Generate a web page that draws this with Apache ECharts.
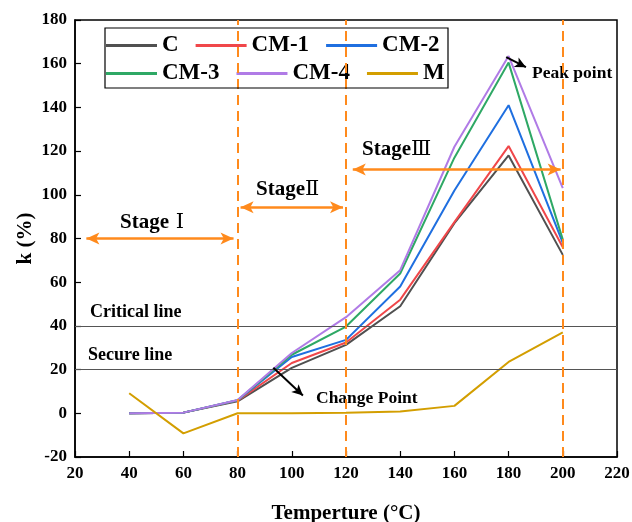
<!DOCTYPE html>
<html>
<head>
<meta charset="utf-8">
<script src="https://cdn.jsdelivr.net/npm/echarts@6/dist/echarts.min.js"></script>
<style>
  html, body { margin: 0; padding: 0; background: #fff; }
  #chart { width: 632px; height: 522px; }
</style>
</head>
<body>
<div id="chart"></div>
<script>
// Temperatures (°C) at which k was measured
const temperatures = [40, 60, 80, 100, 120, 140, 160, 180, 200];

// k (%) for each sample
const seriesC   = [0, 0.3, 5.5, 20.8, 31.3, 49, 87, 118, 72.5];
const seriesCM1 = [0, 0.3, 5.8, 23, 32.4, 52, 87.5, 122.3, 76];
const seriesCM2 = [0, 0.3, 6, 25.8, 33.6, 58, 102, 141, 78];
const seriesCM3 = [0, 0.3, 6, 26.8, 39.7, 64, 117, 160.5, 79.5];
const seriesCM4 = [0, 0.3, 6.1, 27.6, 44, 65.5, 122, 163.5, 103];
const seriesM   = [9.2, -9.2, 0, 0, 0.2, 0.8, 3.4, 23.5, 37];

// Reference levels and stage boundaries
const criticalLevel = 40;
const secureLevel = 20;
const stageBounds = [80, 120, 200];

// Stage spans: [from x, to x, at k]
const stageArrows = [
  [24.2, 78.5, 80],
  [81.1, 118.9, 94.3],
  [122.5, 199.2, 111.6]
];
// Pointer arrows: [x0, y0, x1, y1]
const changeArrow = [93.2, 20.8, 104.1, 8.1];
const peakArrow = [179.1, 163, 186.4, 158.4];

const xTicks = { min: 20, max: 220, interval: 20 };
const yTicks = { min: -20, max: 180, interval: 20 };

const FONT = '"Liberation Serif", "Times New Roman", serif';
const NUMERAL_FONT = '"DejaVu Serif", serif';
const ORANGE = '#FF8A1C';

const colors = {
  'C': '#505050',
  'CM-1': '#F0474A',
  'CM-2': '#1F6FE0',
  'CM-3': '#2EA865',
  'CM-4': '#B07BE6',
  'M': '#D39E00'
};

function pairs(vals) {
  return temperatures.map((t, i) => [t, vals[i]]);
}

function lineSeries(name, vals) {
  return {
    name: name,
    type: 'line',
    data: pairs(vals),
    symbol: 'none',
    color: colors[name],
    lineStyle: { width: 2, color: colors[name] },
    z: 3
  };
}

function stageLabel(x, y, numeral) {
  return {
    type: 'text', x: x, y: y,
    style: {
      text: '{s|Stage}{n|' + numeral + '}',
      textVerticalAlign: 'middle',
      rich: {
        s: { fontFamily: FONT, fontWeight: 'bold', fontSize: 21, fill: '#000', color: '#000' },
        n: { fontFamily: NUMERAL_FONT, fontWeight: 'normal', fontSize: 21, fill: '#000', color: '#000' }
      }
    }
  };
}

function note(x, y, text, size) {
  return {
    type: 'text', x: x, y: y,
    style: { text: text, fontFamily: FONT, fontWeight: 'bold', fontSize: size, fill: '#000', textVerticalAlign: 'middle' }
  };
}

const chart = echarts.init(document.getElementById('chart'), null, { renderer: 'canvas' });

const legendText = { fontFamily: FONT, fontWeight: 'bold', fontSize: 23, color: '#000' };

const legendCommon = {
  left: 106,
  icon: 'rect',
  itemWidth: 51, itemHeight: 3, itemGap: 17,
  textStyle: legendText,
  padding: 0
};

const option = {
  backgroundColor: '#fff',
  animation: false,
  grid: {
    left: 75, right: 15, top: 20, bottom: 65,
    outerBoundsMode: 'none',
    containLabel: false,
    show: true, borderColor: '#000', borderWidth: 1.5, backgroundColor: 'transparent'
  },
  legend: [
    Object.assign({ data: ['C', 'CM-1', 'CM-2'], top: 34 }, legendCommon),
    Object.assign({ data: ['CM-3', 'CM-4', 'M'], top: 62 }, legendCommon)
  ],
  xAxis: {
    type: 'value',
    min: xTicks.min, max: xTicks.max, interval: xTicks.interval,
    name: 'Temperture (°C)',
    nameLocation: 'middle',
    nameGap: 46,
    nameTextStyle: { fontFamily: FONT, fontWeight: 'bold', fontSize: 21, color: '#000' },
    axisLine: { onZero: false, lineStyle: { color: '#000', width: 1.5 } },
    axisTick: { inside: true, length: 6, lineStyle: { color: '#000', width: 1.2 } },
    axisLabel: { fontFamily: FONT, fontWeight: 'bold', fontSize: 17, color: '#000', margin: 8 },
    splitLine: { show: false }
  },
  yAxis: {
    type: 'value',
    min: yTicks.min, max: yTicks.max, interval: yTicks.interval,
    name: 'k (%)',
    nameLocation: 'middle',
    nameMoveOverlap: false,
    nameGap: 39,
    nameTextStyle: { fontFamily: FONT, fontWeight: 'bold', fontSize: 21, color: '#000' },
    axisLine: { onZero: false, lineStyle: { color: '#000', width: 1.5 } },
    axisTick: { inside: true, length: 6, lineStyle: { color: '#000', width: 1.2 } },
    axisLabel: { fontFamily: FONT, fontWeight: 'bold', fontSize: 17, color: '#000', margin: 8 },
    splitLine: { show: false }
  },
  series: [
    // reference levels, drawn beneath the curves
    {
      name: 'levels',
      type: 'line',
      data: [],
      silent: true,
      z: 1,
      markLine: {
        silent: true,
        symbol: ['none', 'none'],
        label: { show: false },
        lineStyle: { color: '#555', width: 1.2, type: 'solid' },
        data: [{ yAxis: criticalLevel }, { yAxis: secureLevel }]
      }
    },
    lineSeries('C', seriesC),
    lineSeries('CM-1', seriesCM1),
    lineSeries('CM-2', seriesCM2),
    lineSeries('CM-3', seriesCM3),
    lineSeries('CM-4', seriesCM4),
    lineSeries('M', seriesM),
    // stage boundaries and arrows
    {
      name: 'stages',
      type: 'line',
      data: [],
      silent: true,
      z: 5,
      markLine: {
        silent: true,
        symbol: ['none', 'none'],
        label: { show: false },
        lineStyle: { color: ORANGE, width: 2, type: [10, 6] },
        data: stageBounds.map(v => ({ xAxis: v }))
      }
    },
    {
      name: 'stageSpans',
      type: 'line',
      data: [],
      silent: true,
      z: 6,
      markLine: {
        silent: true,
        symbol: ['arrow', 'arrow'],
        symbolSize: [9, 13],
        label: { show: false },
        lineStyle: { color: ORANGE, width: 2.5, type: 'solid' },
        data: stageArrows.map(a => [{ coord: [a[0], a[2]] }, { coord: [a[1], a[2]] }])
      }
    },
    {
      name: 'pointers',
      type: 'line',
      data: [],
      silent: true,
      z: 7,
      markLine: {
        silent: true,
        symbol: ['none', 'arrow'],
        symbolSize: [8, 11],
        label: { show: false },
        lineStyle: { color: '#000', width: 2, type: 'solid' },
        data: [changeArrow, peakArrow].map(a => [{ coord: [a[0], a[1]] }, { coord: [a[2], a[3]] }])
      }
    }
  ],
  graphic: [
    {
      type: 'rect',
      shape: { x: 105, y: 28, width: 343, height: 60 },
      style: { fill: 'none', stroke: '#000', lineWidth: 1.2 },
      z: 10
    },
    note(90, 312, 'Critical line', 18),
    note(88, 355, 'Secure line', 18),
    stageLabel(120, 223, ' Ⅰ'),
    stageLabel(256, 190, 'Ⅱ'),
    stageLabel(362, 150, 'Ⅲ'),
    note(316, 398, 'Change Point', 17.5),
    note(532, 73, 'Peak point', 17.5)
  ]
};

chart.setOption(option);
</script>
</body>
</html>
